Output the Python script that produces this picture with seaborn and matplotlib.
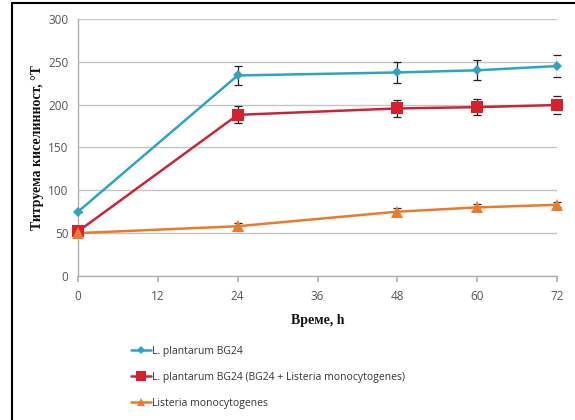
import numpy as np
import pandas as pd
import matplotlib
matplotlib.use("Agg")
import matplotlib.pyplot as plt
import seaborn as sns
from matplotlib.lines import Line2D

hours = [0, 24, 48, 60, 72]
series_names = ["L. plantarum BG24",
                "L. plantarum BG24 (BG24 + Listeria monocytogenes)",
                "Listeria monocytogenes"]
bg24 = [75, 234, 237.5, 240, 245]
bg24_err = [0, 11.5, 12, 11.5, 12.5]
mix = [52, 188, 195.5, 197, 199.5]
mix_err = [0, 10, 10, 9.5, 10]
listeria = [50, 58, 75, 80, 83]
listeria_err = [0, 4, 4.5, 4, 3]
x_ticks = [0, 12, 24, 36, 48, 60, 72]
y_ticks = [0, 50, 100, 150, 200, 250, 300]
y_label = "Титруема киселинност, °Т"
x_label = "Време, h"

colors = ["#2fa3bf", "#d8202c", "#ea7a2c"]
line_colors = ["#2fa3bf", "#c9253a", "#ea7a2c"]
markers = ["D", "s", "^"]
msizes = [5, 9, 8]

sns.set_theme(style="white")
plt.rcParams['font.family'] = ['Open Sans', 'DejaVu Sans']

df = pd.DataFrame({
    "hours": hours * 3,
    "value": bg24 + mix + listeria,
    "err": bg24_err + mix_err + listeria_err,
    "series": [series_names[0]] * 5 + [series_names[1]] * 5 + [series_names[2]] * 5,
})

fig = plt.figure(figsize=(5.75, 4.2), dpi=100)
ax = fig.add_axes([0.1357, 0.343, 0.833, 0.612])

for i, name in enumerate(series_names):
    sub = df[df["series"] == name]
    sns.lineplot(data=sub, x="hours", y="value", ax=ax, color=line_colors[i],
                 linewidth=1.8, marker=None, zorder=3, legend=False)
    ax.errorbar(sub["hours"], sub["value"], yerr=sub["err"], fmt="none",
                ecolor="#222222", elinewidth=0.9, capsize=3, capthick=0.9, zorder=2)
    ax.plot(sub["hours"], sub["value"], linestyle="none", marker=markers[i],
            markersize=msizes[i], color=colors[i], markeredgewidth=0, zorder=4)

ax.set_xlim(0, 72)
ax.set_ylim(0, 300)
ax.set_xticks(x_ticks)
ax.set_yticks(y_ticks)
ax.yaxis.grid(True, color="#c4c4c4", linewidth=1)
ax.set_axisbelow(True)
for s in ["top", "right"]:
    ax.spines[s].set_visible(False)
for s in ["left", "bottom"]:
    ax.spines[s].set_color("#b0b0b0")
    ax.spines[s].set_linewidth(1)
ax.tick_params(axis="x", which="both", bottom=True, length=4, color="#b0b0b0",
               labelsize=8.5, labelcolor="#555555", pad=6)
ax.tick_params(axis="y", left=False, length=0, labelsize=8.5, labelcolor="#555555", pad=7)
ax.set_xlabel(x_label, fontfamily="Liberation Serif", fontweight="bold",
              fontsize=10, color="#111111", labelpad=8)
ax.set_ylabel(y_label, fontfamily="Liberation Serif", fontweight="bold",
              fontsize=10, color="#111111", labelpad=3)
for line in ax.lines:
    line.set_clip_on(False)

handles = [Line2D([0], [0], color=line_colors[i], linewidth=1.8, marker=markers[i],
                  markersize=msizes[i] * 0.8, markerfacecolor=colors[i],
                  markeredgewidth=0) for i in range(3)]
leg = fig.legend(handles, series_names, loc="upper left",
                 bbox_to_anchor=(0.228, 1 - 346 / 420), frameon=False, fontsize=7.5,
                 handlelength=1.9, handletextpad=0.15, labelspacing=1.42,
                 borderaxespad=0, borderpad=0)
for t in leg.get_texts():
    t.set_color("#333333")

# partial frame (left and top) around the figure
fig.add_artist(Line2D([12 / 575, 12 / 575], [0, 1 - 3 / 420], color="black",
                      linewidth=1.5, transform=fig.transFigure))
fig.add_artist(Line2D([12 / 575, 1], [1 - 3 / 420, 1 - 3 / 420], color="black",
                      linewidth=1.5, transform=fig.transFigure))

fig.savefig("out.png", dpi=100)
